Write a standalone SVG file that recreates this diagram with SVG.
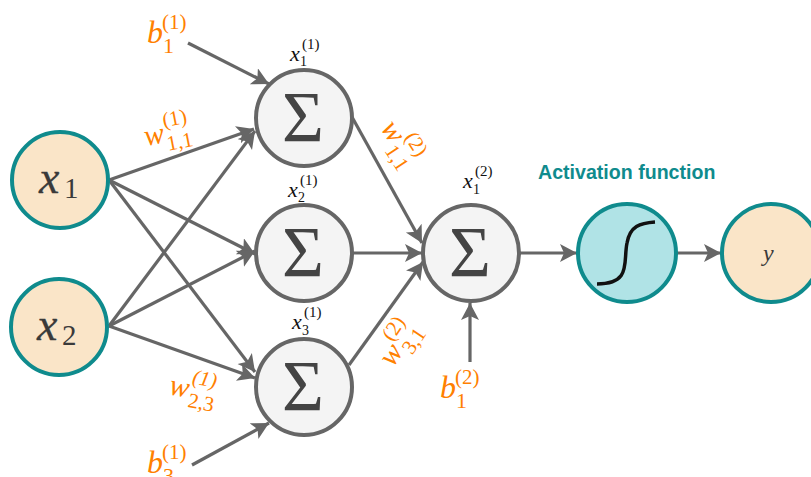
<svg xmlns="http://www.w3.org/2000/svg" width="811" height="477" viewBox="0 0 811 477">
<style>
.in{fill:#fae5c8;stroke:#0f8b8d;stroke-width:4}
.sum{fill:#f4f4f4;stroke:#666;stroke-width:4}
.act{fill:#b0e3e6;stroke:#0f8b8d;stroke-width:4}
.c{fill:none;stroke:#666;stroke-width:3.2;marker-end:url(#a)}
text{font-family:"Liberation Serif","DejaVu Serif",serif}
.o{fill:#ff8000}
.i{font-style:italic}
.k{fill:#111}
.d{fill:#3a3a3a}
.x{stroke:#3a3a3a;stroke-width:.3}
.sg{font-size:72px;fill:#444;text-anchor:middle}
</style>
<defs>
<marker id="a" markerUnits="userSpaceOnUse" markerWidth="22" markerHeight="20" refX="17" refY="9" orient="auto">
<path d="M0 0L17 9L0 18L4 9Z" fill="#666"/>
</marker>
</defs>
<g id="connectors">
<path class="c" d="M109 180L254 129"/>
<path class="c" d="M109 180L255 254"/>
<path class="c" d="M109 180L255 372"/>
<path class="c" d="M109 326L255 131"/>
<path class="c" d="M109 326L255 251"/>
<path class="c" d="M109 326L255 378"/>
<path class="c" d="M188 43L269 84"/>
<path class="c" d="M192 465L269 423"/>
<path class="c" d="M352 117L422 243"/>
<path class="c" d="M353 253L422 253"/>
<path class="c" d="M349 365L423 262"/>
<path class="c" d="M470 362L470 303"/>
<path class="c" d="M520 253L577 253"/>
<path class="c" d="M676 253L721 253"/>
</g>
<g id="node-x1"><circle class="in" cx="60" cy="180" r="48"/>
<text class="d i x" x="39" y="193" font-size="46">x</text><text class="d" x="64" y="198" font-size="29">1</text></g>
<g id="node-x2"><circle class="in" cx="59" cy="327" r="48"/>
<text class="d i x" x="37" y="340" font-size="46">x</text><text class="d" x="62" y="345" font-size="29">2</text></g>
<g id="node-s1"><circle class="sum" cx="304" cy="118" r="48"/><text class="sg" x="303" y="141">Σ</text></g>
<g id="node-s2"><circle class="sum" cx="304" cy="253" r="48"/><text class="sg" x="303" y="276">Σ</text></g>
<g id="node-s3"><circle class="sum" cx="304" cy="387" r="48"/><text class="sg" x="303" y="410">Σ</text></g>
<g id="node-s4"><circle class="sum" cx="471" cy="253" r="48"/><text class="sg" x="470" y="276">Σ</text></g>
<g id="node-act"><circle class="act" cx="627" cy="253" r="49"/>
<path d="M597 284C632 284 623 262 627 243C630 226 640 223 655 222" fill="none" stroke="#111" stroke-width="3.5"/></g>
<g id="node-y"><circle class="in" cx="771" cy="253" r="49"/><text class="d i" x="763" y="261" font-size="24">y</text></g>
<g id="labels">
<text x="538" y="179" font-weight="700" font-size="19.6" fill="#0f8b8d" style="font-family:'Liberation Sans',sans-serif">Activation function</text>
<g class="k"><text class="i" x="290" y="61" font-size="22">x</text><text x="300" y="66" font-size="14">1</text><text x="302" y="49" font-size="15">(1)</text></g>
<g class="k"><text class="i" x="288" y="197" font-size="22">x</text><text x="298" y="202" font-size="14">2</text><text x="300" y="185" font-size="15">(1)</text></g>
<g class="k"><text class="i" x="292" y="329" font-size="22">x</text><text x="302" y="335" font-size="14">3</text><text x="304" y="317" font-size="15">(1)</text></g>
<g class="k"><text class="i" x="463" y="188" font-size="22">x</text><text x="473" y="194" font-size="14">1</text><text x="475" y="176" font-size="15">(2)</text></g>
<g class="o"><text class="i" x="147" y="43" font-size="32">b</text><text x="163" y="53" font-size="22">1</text><text x="162" y="29" font-size="21">(1)</text></g>
<g class="o"><text class="i" x="147" y="473" font-size="32">b</text><text x="163" y="483" font-size="22">3</text><text x="162" y="459" font-size="21">(1)</text></g>
<g class="o"><text class="i" x="440" y="398" font-size="32">b</text><text x="456" y="408" font-size="22">1</text><text x="455" y="384" font-size="21">(2)</text></g>
<g class="o" transform="translate(146 146) rotate(-11)"><text class="i" x="0" y="0" font-size="30">w</text><text x="21" y="9" font-size="21">1,1</text><text x="21" y="-15" font-size="21">(1)</text></g>
<g class="o" transform="translate(168 394) rotate(11)"><text class="i" x="0" y="0" font-size="30">w</text><text x="21" y="9" font-size="21">2,3</text><text x="21" y="-15" font-size="21" font-style="italic">(1)</text></g>
<g class="o" transform="translate(380 128) rotate(57)"><text class="i" x="0" y="0" font-size="30">w</text><text x="21" y="9" font-size="21">1,1</text><text x="21" y="-15" font-size="21">(2)</text></g>
<g class="o" transform="translate(393 368) rotate(-56)"><text class="i" x="0" y="0" font-size="30">w</text><text x="21" y="9" font-size="21">3,1</text><text x="21" y="-15" font-size="21">(2)</text></g>
</g>
</svg>
